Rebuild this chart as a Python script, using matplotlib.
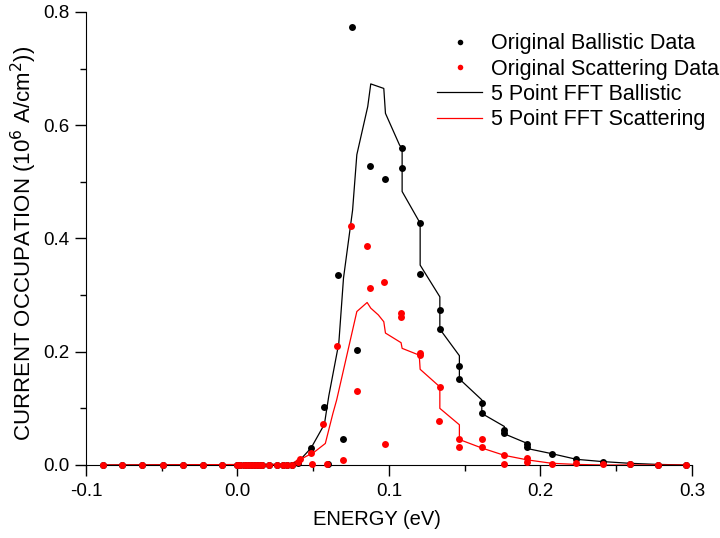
import numpy as np
import matplotlib.pyplot as plt
from matplotlib.ticker import MultipleLocator

plt.rcParams['font.family'] = ['Liberation Sans', 'DejaVu Sans']

# zero-level points shared by both data sets
zero_x = [-0.089, -0.076, -0.063, -0.049, -0.036, -0.023, -0.010, 0.000, 0.002,
          0.004, 0.006, 0.008, 0.010, 0.012, 0.014, 0.016, 0.021, 0.026, 0.030,
          0.033, 0.036]

ball_x = [0.040, 0.0486, 0.0574, 0.0596, 0.0662, 0.0695, 0.0757, 0.0788, 0.0878,
          0.0977, 0.1087, 0.1087, 0.1206, 0.1206, 0.1335, 0.1335, 0.1465, 0.1465,
          0.1613, 0.1613, 0.1762, 0.1762, 0.1914, 0.1914, 0.2075, 0.2238, 0.2411,
          0.259, 0.2774, 0.2964]
ball_y = [0.004, 0.030, 0.102, 0.001, 0.336, 0.046, 0.773, 0.203, 0.528,
          0.505, 0.560, 0.525, 0.428, 0.337, 0.273, 0.240, 0.174, 0.152,
          0.109, 0.091, 0.061, 0.056, 0.037, 0.032, 0.019, 0.010, 0.005,
          0.002, 0.000, 0.000]

scat_x = [0.040, 0.041, 0.0486, 0.049, 0.0566, 0.059, 0.066, 0.0695, 0.0752,
          0.0788, 0.0856, 0.0874, 0.0966, 0.0977, 0.108, 0.108, 0.1206, 0.1206,
          0.1336, 0.133, 0.1465, 0.1465, 0.1613, 0.1613, 0.1762, 0.1762, 0.1914,
          0.1914, 0.2075, 0.2238, 0.2411, 0.259, 0.2774, 0.2964]
scat_y = [0.006, 0.010, 0.022, 0.002, 0.072, 0.002, 0.210, 0.008, 0.422,
          0.130, 0.386, 0.312, 0.324, 0.037, 0.268, 0.262, 0.198, 0.194,
          0.138, 0.078, 0.046, 0.032, 0.046, 0.031, 0.017, 0.001, 0.012,
          0.006, 0.001, 0.003, 0.002, 0.001, 0.000, 0.000]

# smoothed curves (vertices)
fftb_x = [-0.089, 0.030, 0.036, 0.041, 0.0486, 0.0574, 0.0603, 0.0669, 0.0700,
          0.0760, 0.0788, 0.0860, 0.0880, 0.0966, 0.0977, 0.1070, 0.1087, 0.1087,
          0.1206, 0.1206, 0.1336, 0.1336, 0.1465, 0.1465, 0.1613, 0.1613, 0.1762,
          0.1762, 0.1914, 0.1914, 0.2075, 0.2238, 0.2411, 0.259, 0.2774, 0.2964]
fftb_y = [0.000, 0.001, 0.003, 0.008, 0.030, 0.072, 0.122, 0.215, 0.330,
          0.450, 0.548, 0.633, 0.673, 0.665, 0.621, 0.565, 0.560, 0.483,
          0.427, 0.353, 0.297, 0.240, 0.193, 0.152, 0.115, 0.091, 0.068,
          0.055, 0.038, 0.029, 0.020, 0.010, 0.006, 0.003, 0.001, 0.000]

ffts_x = [-0.089, 0.030, 0.036, 0.041, 0.0508, 0.058, 0.063, 0.0655, 0.0788,
          0.0856, 0.088, 0.093, 0.0966, 0.0977, 0.108, 0.1087, 0.1200, 0.1206,
          0.1336, 0.1336, 0.1465, 0.1465, 0.1613, 0.1762, 0.1914, 0.2075, 0.2238,
          0.2411, 0.259, 0.2774, 0.2964]
ffts_y = [0.000, 0.001, 0.003, 0.009, 0.023, 0.038, 0.091, 0.115, 0.271,
          0.287, 0.277, 0.265, 0.253, 0.233, 0.216, 0.206, 0.194, 0.169,
          0.138, 0.100, 0.071, 0.045, 0.030, 0.017, 0.009, 0.003, 0.001,
          0.000, 0.000, 0.000, 0.000]

fig = plt.figure(figsize=(7.2, 5.38), dpi=100)
ax = fig.add_axes([0.1194, 0.1357, 0.8416, 0.842])

ax.plot(fftb_x, fftb_y, color='black', lw=0.9, label='5 Point FFT Ballistic', zorder=2)
ax.plot(ffts_x, ffts_y, color='red', lw=0.9, label='5 Point FFT Scattering', zorder=2)
ax.plot(zero_x + ball_x, [0.0] * len(zero_x) + ball_y, 'o', color='black', ms=5,
        mew=0, label='Original Ballistic Data', zorder=3, clip_on=False)
ax.plot(zero_x + scat_x, [0.0] * len(zero_x) + scat_y, 'o', color='red', ms=5,
        mew=0, label='Original Scattering Data', zorder=4, clip_on=False)

ax.set_xlim(-0.1, 0.3)
ax.set_ylim(0, 0.8)
ax.set_xticks([-0.1, 0.0, 0.1, 0.2, 0.3])
ax.set_xticklabels(['-0.1', '0.0', '0.1', '0.2', '0.3'])
ax.set_yticks([0.0, 0.2, 0.4, 0.6, 0.8])
ax.set_yticklabels(['0.0', '0.2', '0.4', '0.6', '0.8'])
ax.xaxis.set_minor_locator(MultipleLocator(0.05))
ax.yaxis.set_minor_locator(MultipleLocator(0.1))
ax.tick_params(which='major', direction='out', length=8, width=1, labelsize=13.5)
ax.tick_params(which='minor', direction='out', length=4, width=1)
ax.tick_params(axis='x', pad=5)
ax.tick_params(axis='y', pad=4)
ax.spines['top'].set_visible(False)
ax.spines['right'].set_visible(False)

ax.set_xlabel('ENERGY (eV)', fontsize=14.5)
ax.xaxis.set_label_coords(0.48, -0.1)
ax.set_ylabel('CURRENT OCCUPATION (10$^6$ A/cm$^2$))', fontsize=16)
ax.yaxis.set_label_coords(-0.077, 0.49)

h, l = ax.get_legend_handles_labels()
order = [2, 3, 0, 1]
leg = ax.legend([h[i] for i in order], [l[i] for i in order], loc='upper left',
                bbox_to_anchor=(0.607, 0.938), bbox_transform=fig.transFigure,
                frameon=False, fontsize=15.5, borderpad=0, borderaxespad=0,
                handlelength=2.1, handletextpad=0.4, labelspacing=0.2, markerscale=0.8)

fig.savefig('out.png', dpi=100)
